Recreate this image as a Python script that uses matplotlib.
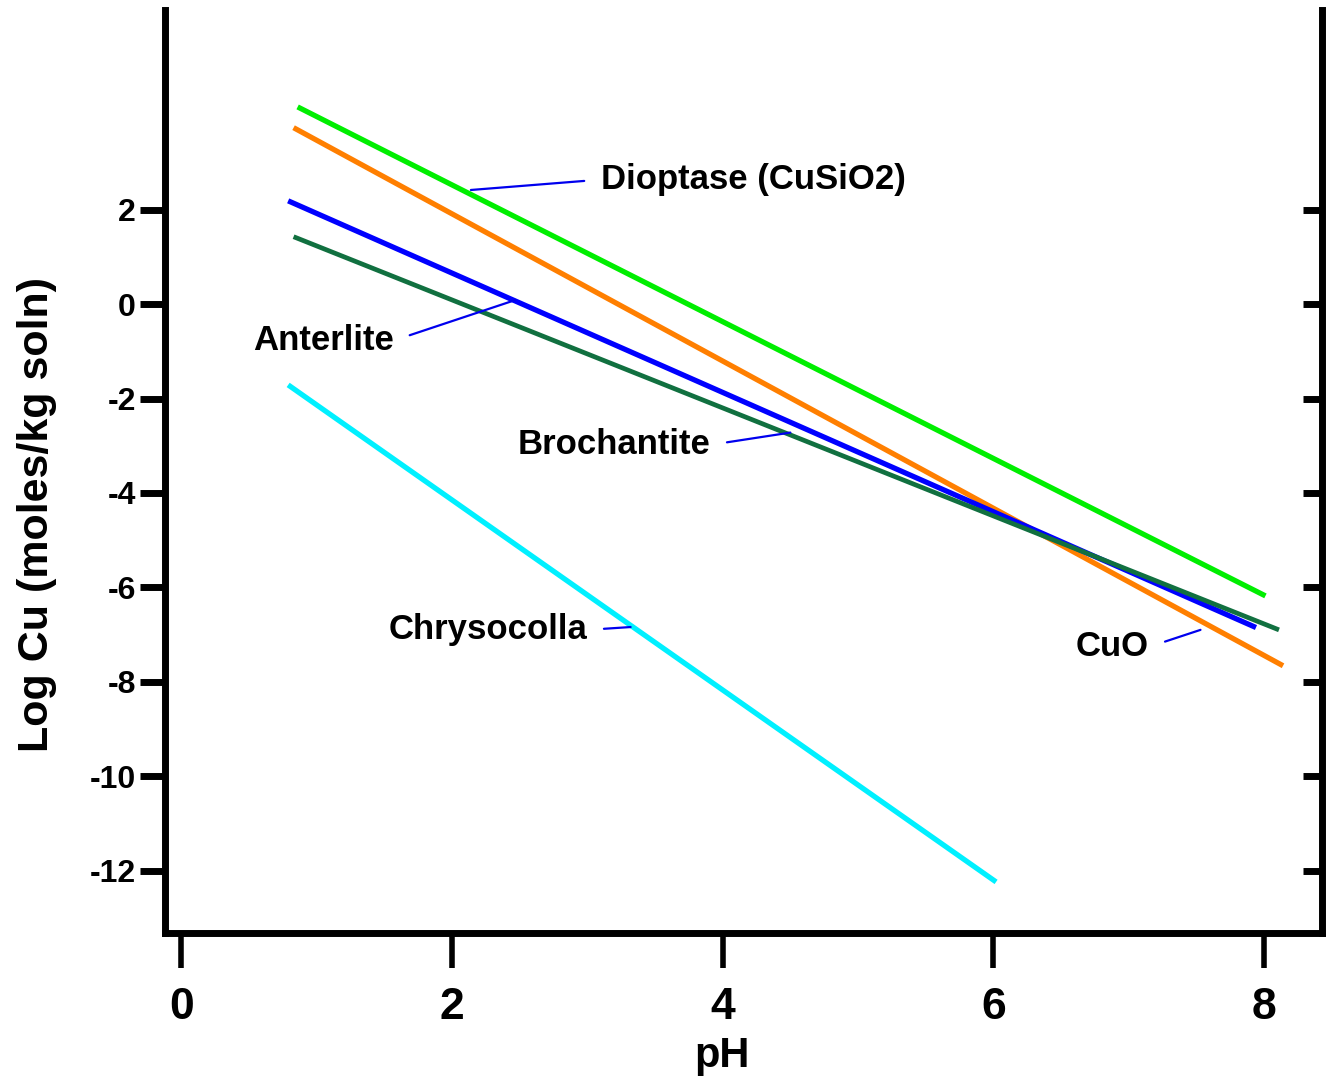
import matplotlib
matplotlib.use('Agg')
import matplotlib.pyplot as plt

plt.rcParams['font.family'] = ['Liberation Sans', 'DejaVu Sans']
plt.rcParams['font.weight'] = 'bold'

# lines: (pH start, pH end), (log Cu start, log Cu end)
dioptase_ph = [0.86, 8.01]
dioptase_cu = [4.18, -6.18]
cuo_ph = [0.83, 8.14]
cuo_cu = [3.74, -7.66]
anterlite_ph = [0.79, 7.94]
anterlite_cu = [2.19, -6.85]
brochantite_ph = [0.83, 8.11]
brochantite_cu = [1.43, -6.90]
chrysocolla_ph = [0.79, 6.02]
chrysocolla_cu = [-1.71, -12.24]

x_ticks = [0, 2, 4, 6, 8]
y_ticks = [2, 0, -2, -4, -6, -8, -10, -12]

# label text, text position, point on line, text alignment
labels = [
    ('Dioptase (CuSiO2)', (3.10, 2.64), (2.14, 2.42), 'left'),
    ('Anterlite', (1.57, -0.77), (2.47, 0.09), 'right'),
    ('Brochantite', (3.91, -2.98), (4.50, -2.72), 'right'),
    ('Chrysocolla', (3.00, -6.90), (3.32, -6.84), 'right'),
    ('CuO', (7.15, -7.26), (7.53, -6.90), 'right'),
]

fig = plt.figure(figsize=(13.37, 10.76), dpi=100)
ax = fig.add_axes([0.1234, 0.133, 0.8656, 0.858])

ax.plot(dioptase_ph, dioptase_cu, color='#00ee00', lw=3.8, solid_capstyle='butt')
ax.plot(cuo_ph, cuo_cu, color='#ff7f00', lw=3.8, solid_capstyle='butt')
ax.plot(anterlite_ph, anterlite_cu, color='#0000ff', lw=3.8, solid_capstyle='butt')
ax.plot(brochantite_ph, brochantite_cu, color='#117040', lw=3.4, solid_capstyle='butt')
ax.plot(chrysocolla_ph, chrysocolla_cu, color='#00f0ff', lw=3.8, solid_capstyle='butt')

for text, pos, target, ha in labels:
    rel = (0, 0.5) if ha == 'left' else (1, 0.5)
    ax.annotate(text, xy=target, xytext=pos, ha=ha, va='center', fontsize=25,
                fontweight='bold',
                arrowprops=dict(arrowstyle='-', color='#0000ee', lw=1.6,
                                relpos=rel, shrinkA=10, shrinkB=0))

ax.set_xlim(-0.12, 8.43)
ax.set_ylim(-13.32, 6.24)

ax.spines['top'].set_visible(False)
for s in ['left', 'bottom', 'right']:
    ax.spines[s].set_linewidth(5)

ax.set_xticks(x_ticks)
ax.set_yticks(y_ticks)
ax.set_yticklabels([str(v) for v in y_ticks])
ax.tick_params(axis='x', direction='out', length=25, width=4, labelsize=32, pad=14)
ax.tick_params(axis='y', direction='out', length=18, width=5, labelsize=23, pad=3)
ax.tick_params(axis='y', which='both', right=True, labelright=False)
# right side ticks point inward
for tick in ax.yaxis.get_major_ticks():
    tick.tick2line.set_marker(0)
    tick.tick2line.set_markersize(14)

ax.set_xlabel('pH', fontsize=30, fontweight='bold')
ax.xaxis.set_label_coords(0.481, -0.112)
ax.set_ylabel('Log Cu (moles/kg soln)', fontsize=31, fontweight='bold')
ax.yaxis.set_label_coords(-0.093, 0.453)

fig.savefig('out.png', dpi=100)
